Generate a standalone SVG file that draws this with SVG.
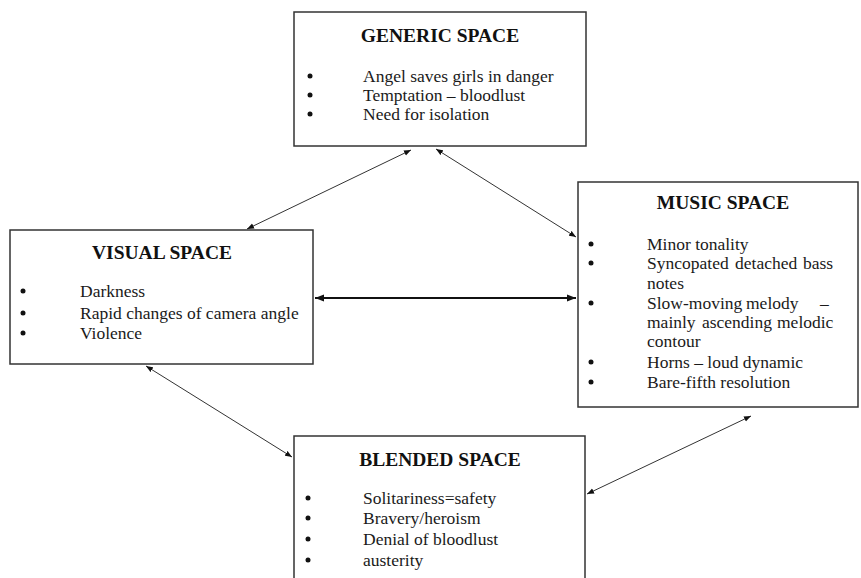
<svg xmlns="http://www.w3.org/2000/svg" width="861" height="578" viewBox="0 0 861 578">
<style>
.box{fill:#fff;stroke:#333;stroke-width:1.5}
.t{font-family:"Liberation Serif","Times New Roman",serif;font-size:19.5px;font-weight:bold;fill:#111;text-anchor:middle}
.b{font-family:"Liberation Serif","Times New Roman",serif;font-size:17.5px;fill:#1a1a1a}
.d{fill:#111}
.c{stroke:#333;stroke-width:1;fill:none;marker-start:url(#a);marker-end:url(#a)}
.c2{stroke:#111;stroke-width:2;fill:none;marker-start:url(#a2);marker-end:url(#a2)}
</style>
<defs>
<marker id="a" viewBox="0 0 10 10" refX="10" refY="5" markerWidth="7" markerHeight="7" markerUnits="userSpaceOnUse" orient="auto-start-reverse"><path d="M0,1 L10,5 L0,9 z" fill="#111"/></marker>
<marker id="a2" viewBox="0 0 10 10" refX="10" refY="5" markerWidth="9" markerHeight="9" markerUnits="userSpaceOnUse" orient="auto-start-reverse"><path d="M0,1 L10,5 L0,9 z" fill="#111"/></marker>
</defs>
<rect width="861" height="578" fill="#fff"/>
<g id="connectors">
<line class="c" x1="247" y1="229" x2="411" y2="150"/>
<line class="c" x1="436" y1="149" x2="576" y2="237"/>
<line class="c2" x1="315" y1="298" x2="576" y2="298"/>
<line class="c" x1="146" y1="366" x2="292" y2="457"/>
<line class="c" x1="587" y1="494" x2="751" y2="416"/>
</g>
<g id="generic">
<rect class="box" x="294" y="12" width="292" height="134"/>
<text class="t" x="440" y="42">GENERIC SPACE</text>
<circle class="d" cx="310" cy="76" r="2.5"/><text class="b" x="363" y="82">Angel saves girls in danger</text>
<circle class="d" cx="310" cy="95" r="2.5"/><text class="b" x="363" y="101">Temptation – bloodlust</text>
<circle class="d" cx="310" cy="114" r="2.5"/><text class="b" x="363" y="120">Need for isolation</text>
</g>
<g id="visual">
<rect class="box" x="10" y="230" width="303" height="134"/>
<text class="t" x="162" y="259">VISUAL SPACE</text>
<circle class="d" cx="23" cy="291" r="2.5"/><text class="b" x="80" y="297">Darkness</text>
<circle class="d" cx="23" cy="313" r="2.5"/><text class="b" x="80" y="319">Rapid changes of camera angle</text>
<circle class="d" cx="23" cy="333" r="2.5"/><text class="b" x="80" y="339">Violence</text>
</g>
<g id="music">
<rect class="box" x="578" y="182" width="280" height="225"/>
<text class="t" x="723" y="209">MUSIC SPACE</text>
<circle class="d" cx="591" cy="244" r="2.5"/><text class="b" x="647" y="250">Minor tonality</text>
<circle class="d" cx="591" cy="263" r="2.5"/><text class="b" y="269"><tspan x="647">Syncopated</tspan><tspan x="735">detached</tspan><tspan x="803">bass</tspan></text>
<text class="b" x="647" y="289">notes</text>
<circle class="d" cx="591" cy="303" r="2.5"/><text class="b" y="309"><tspan x="647">Slow-moving</tspan><tspan x="746">melody</tspan><tspan x="820">–</tspan></text>
<text class="b" y="328"><tspan x="647">mainly</tspan><tspan x="702">ascending</tspan><tspan x="777">melodic</tspan></text>
<text class="b" x="647" y="347">contour</text>
<circle class="d" cx="591" cy="362" r="2.5"/><text class="b" x="647" y="368">Horns – loud dynamic</text>
<circle class="d" cx="591" cy="382" r="2.5"/><text class="b" x="647" y="388">Bare-fifth resolution</text>
</g>
<g id="blended">
<rect class="box" x="294" y="436" width="291" height="160"/>
<text class="t" x="440" y="466">BLENDED SPACE</text>
<circle class="d" cx="308" cy="498" r="2.5"/><text class="b" x="363" y="504">Solitariness=safety</text>
<circle class="d" cx="308" cy="518" r="2.5"/><text class="b" x="363" y="524">Bravery/heroism</text>
<circle class="d" cx="308" cy="539" r="2.5"/><text class="b" x="363" y="545">Denial of bloodlust</text>
<circle class="d" cx="308" cy="560" r="2.5"/><text class="b" x="363" y="566">austerity</text>
</g>
</svg>
